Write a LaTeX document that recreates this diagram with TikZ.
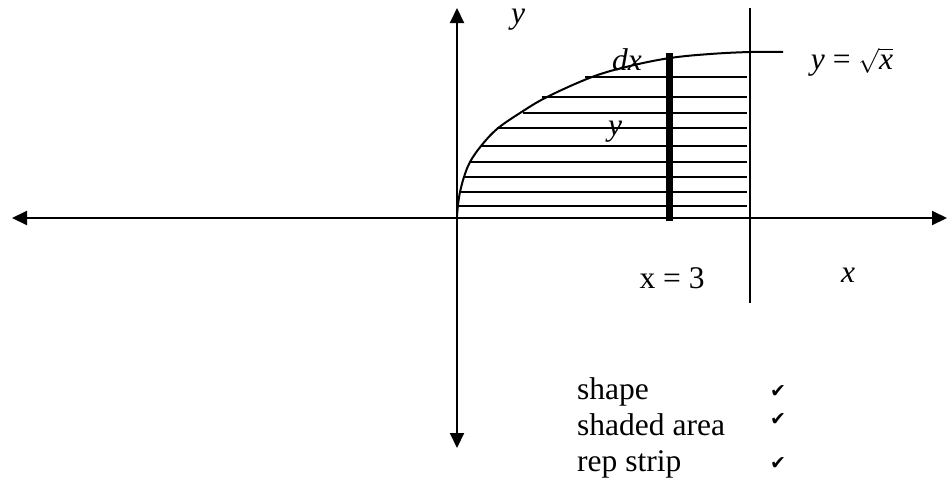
\documentclass[tikz,border=0pt]{standalone}
\usepackage{fontspec}
\setmainfont{Liberation Serif}
\newfontfamily\tickfont{DejaVu Sans}
\usetikzlibrary{arrows.meta}

\begin{document}
\begin{tikzpicture}[x=1pt,y=-1pt,
  axis/.style={line width=2pt,{Triangle[length=15pt,width=14pt]}-{Triangle[length=15pt,width=14pt]}},
  lbl/.style={inner sep=0pt,font=\fontsize{31.5}{36}\selectfont},
  tick/.style={inner sep=0pt,font=\tickfont\fontsize{19}{22}\selectfont}]
  \useasboundingbox (0,0) rectangle (947,485);
  \coordinate (xmin) at (12,218);
  \coordinate (xmax) at (947,218);
  \coordinate (ymax) at (457,8);
  \coordinate (ymin) at (457,448);
  \coordinate (ltop) at (750,8);
  \coordinate (lbot) at (750,303);
  \coordinate (striptop) at (669.5,53);
  \coordinate (stripbot) at (669.5,221);
  \draw[axis] (xmin) -- (xmax);
  \draw[axis] (ymin) -- (ymax);
  \draw[line width=2pt] (ltop) -- (lbot);
  \foreach \yy/\xl in {77.3/585,97.3/541.7,112.7/522.7,128.3/496.7,145.7/480.7,161.7/469.3,177.3/463.3,191.7/459.3,205.7/458.3}
    \draw[line width=2pt] (\xl,\yy) -- (747,\yy);
  \draw[line width=2pt] plot[smooth,tension=0.6] coordinates {(457,216) (458,205) (460,192) (464,177) (470,162) (481,146) (497,129) (520,113) (547,97) (592,77) (630,66) (670,58) (710,54) (750,52) (783,52)};
  \draw[line width=7pt] (striptop) -- (stripbot);
  \node[lbl] (ytop) at (518,20) {\textit{y}};
  \node[lbl] (dx) at (627,60) {\textit{dx}};
  \node[lbl] (ymid) at (615,132) {\textit{y}};
  \node[lbl] (curve) at (852,62) {\textit{y} = $\sqrt{\textit{x}}$};
  \node[lbl] (xeq) at (672,278) {x = 3};
  \node[lbl] (xlab) at (848,275) {\textit{x}};
  \node[lbl,anchor=base west] (shape) at (577,399) {shape};
  \node[lbl,anchor=base west] (area) at (577,435) {shaded area};
  \node[lbl,anchor=base west] (strip) at (577,471) {rep strip};
  \node[tick] (tick1) at (778,391) {✔};
  \node[tick] (tick2) at (778,419) {✔};
  \node[tick] (tick3) at (778,463) {✔};
\end{tikzpicture}
\end{document}
